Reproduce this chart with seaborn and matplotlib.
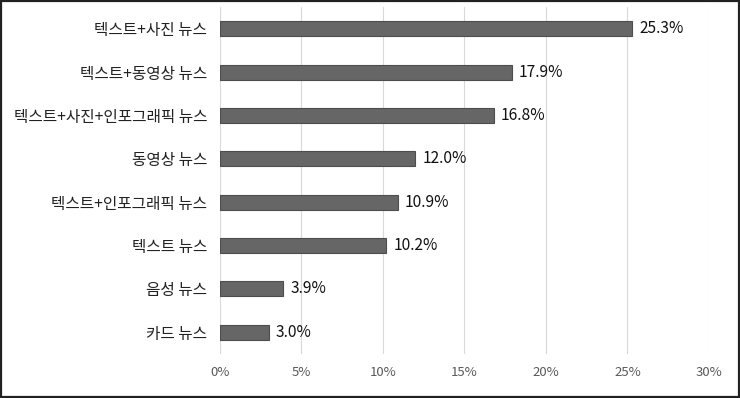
import matplotlib
matplotlib.use("Agg")
import matplotlib.pyplot as plt
import matplotlib.patches as mpatches
import seaborn as sns

categories = ['텍스트+사진 뉴스', '텍스트+동영상 뉴스', '텍스트+사진+인포그래픽 뉴스', '동영상 뉴스',
              '텍스트+인포그래픽 뉴스', '텍스트 뉴스', '음성 뉴스', '카드 뉴스']
values = [25.3, 17.9, 16.8, 12.0, 10.9, 10.2, 3.9, 3.0]
xticks = [0, 5, 10, 15, 20, 25, 30]

sns.set_style("white")
plt.rcParams['font.family'] = ['Noto Sans CJK KR', 'DejaVu Sans']

fig = plt.figure(figsize=(7.4, 3.98), dpi=100)
ax = fig.add_axes([0.297, 0.111, 0.661, 0.871])

sns.barplot(x=values, y=categories, orient='h', color='#666666', edgecolor='#4d4d4d',
            linewidth=0.8, width=0.35, saturation=1, ax=ax)

for i, v in enumerate(values):
    ax.text(v + 0.45, i, f'{v:.1f}%', va='center', ha='left', fontsize=11.2, color='#111111')

ax.set_xlim(0, 30)
ax.set_ylim(7.5, -0.5)
ax.set_xticks(xticks)
ax.set_xticklabels([f'{t}%' for t in xticks], fontsize=9.5, color='#595959')
ax.tick_params(axis='y', labelsize=11.3, labelcolor='#222222', length=0, pad=9)
ax.tick_params(axis='x', length=0, pad=9)
ax.set_xlabel('')
ax.set_ylabel('')
ax.grid(axis='x', color='#d9d9d9', linewidth=0.8)
ax.set_axisbelow(True)
for s in ax.spines.values():
    s.set_visible(False)

fig.patches.append(mpatches.Rectangle((0.002, 0.003), 0.996, 0.994, transform=fig.transFigure,
                                      fill=False, edgecolor='#222222', linewidth=1.6))

fig.savefig('out.png', dpi=100)
